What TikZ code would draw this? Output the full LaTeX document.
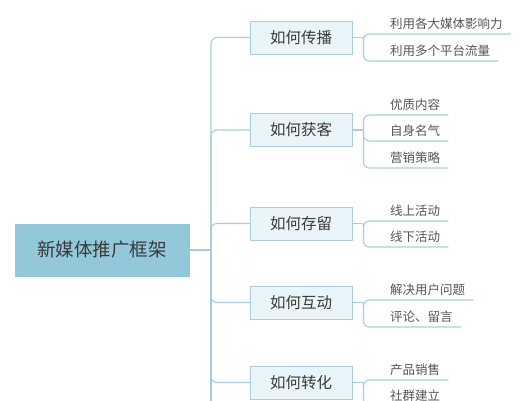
\documentclass[tikz,border=0pt]{standalone}
\usepackage{fontspec}
\newfontfamily\cjk{Noto Sans CJK SC}
\definecolor{linec}{HTML}{A9CEDB}
\definecolor{rootc}{HTML}{92C8DA}
\definecolor{boxc}{HTML}{EAF5F9}
\definecolor{boxb}{HTML}{A9CEDB}
\definecolor{textc}{HTML}{3A3A3A}
\definecolor{leafc}{HTML}{555555}
\begin{document}
\begin{tikzpicture}[x=1pt,y=-1pt,
  conn/.style={draw=linec, line width=1.1pt, rounded corners=6pt},
  rootbox/.style={fill=rootc, draw=rootc, minimum width=174pt, minimum height=52pt, inner sep=0pt, font=\cjk\fontsize{18.5}{20}\selectfont, text=textc},
  branchbox/.style={fill=boxc, draw=boxb, line width=0.9pt, minimum width=102pt, minimum height=33pt, inner sep=0pt, font=\cjk\fontsize{15.5}{17}\selectfont, text=textc},
  leaf/.style={anchor=south west, inner xsep=8pt, inner ysep=3pt, text height=9pt, text depth=2.5pt, font=\cjk\fontsize{12.5}{14}\selectfont, text=leafc}]
\useasboundingbox (0,0) rectangle (526,400);
\clip (0,0) rectangle (526,400);
\fill[white] (0,0) rectangle (526,400);

\node[rootbox] (root) at (102,250) {新媒体推广框架};
\coordinate (hub) at (211,250);
\coordinate (off) at (211,430);

\node[branchbox] (b1) at (301,37.5) {如何传播};
\node[branchbox] (b2) at (301,130) {如何获客};
\node[branchbox] (b3) at (301,223.5) {如何存留};
\node[branchbox] (b4) at (301,302.5) {如何互动};
\node[branchbox] (b5) at (301,382.5) {如何转化};

\draw[conn] (root.east) -- (hub);
\draw[conn] (hub) -- (off);
\foreach \b in {b1,b2,b3,b4,b5} \draw[conn] (hub) |- (\b.west);

\node[leaf] (l11) at (382,34) {利用各大媒体影响力};
\node[leaf] (l12) at (382,61) {利用多个平台流量};
\node[leaf] (l21) at (382,115) {优质内容};
\node[leaf] (l22) at (382,141) {自身名气};
\node[leaf] (l23) at (382,168) {营销策略};
\node[leaf] (l31) at (382,221) {线上活动};
\node[leaf] (l32) at (382,247) {线下活动};
\node[leaf] (l41) at (382,300) {解决用户问题};
\node[leaf] (l42) at (382,327) {评论、留言};
\node[leaf] (l51) at (382,380) {产品销售};
\node[leaf] (l52) at (382,406) {社群建立};

\foreach \b/\ls in {b1/{l11,l12}, b2/{l21,l22,l23}, b3/{l31,l32}, b4/{l41,l42}, b5/{l51,l52}} {
  \draw[conn] (\b.east) -- ++(11,0) coordinate (k\b);
  \foreach \l in \ls \draw[conn] (k\b) |- (\l.south east);
}
\end{tikzpicture}
\end{document}
